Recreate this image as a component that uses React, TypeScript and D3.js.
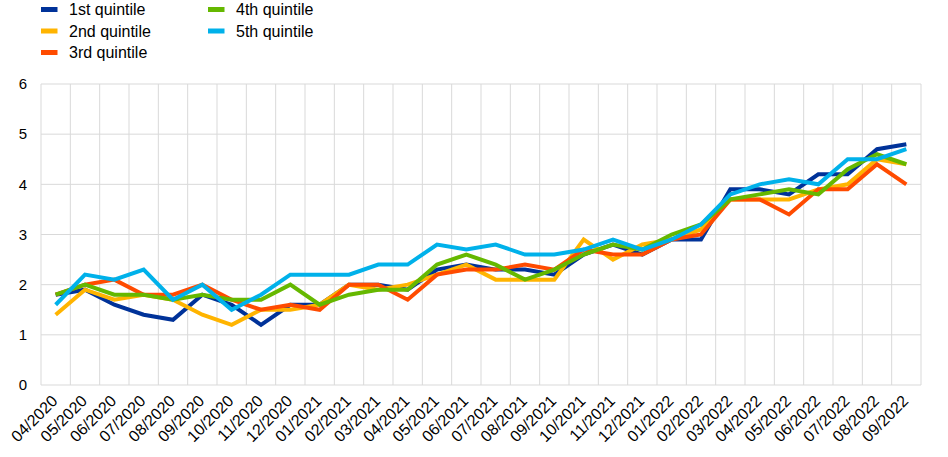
import React from "react";
import * as d3 from "d3";

const months = [
  "04/2020","05/2020","06/2020","07/2020","08/2020","09/2020","10/2020","11/2020","12/2020",
  "01/2021","02/2021","03/2021","04/2021","05/2021","06/2021","07/2021","08/2021","09/2021",
  "10/2021","11/2021","12/2021","01/2022","02/2022","03/2022","04/2022","05/2022","06/2022",
  "07/2022","08/2022","09/2022",
];

const q1 = [1.8,1.9,1.6,1.4,1.3,1.8,1.6,1.2,1.6,1.6,2.0,2.0,1.9,2.3,2.4,2.3,2.3,2.2,2.6,2.8,2.6,2.9,2.9,3.9,3.9,3.8,4.2,4.2,4.7,4.8];
const q2 = [1.4,1.9,1.7,1.8,1.7,1.4,1.2,1.5,1.5,1.6,2.0,1.9,2.0,2.2,2.4,2.1,2.1,2.1,2.9,2.5,2.8,2.9,3.1,3.7,3.7,3.7,3.9,4.0,4.5,4.4];
const q3 = [1.8,2.0,2.1,1.8,1.8,2.0,1.7,1.5,1.6,1.5,2.0,2.0,1.7,2.2,2.3,2.3,2.4,2.3,2.7,2.6,2.6,2.9,3.0,3.7,3.7,3.4,3.9,3.9,4.4,4.0];
const q4 = [1.8,2.0,1.8,1.8,1.7,1.8,1.7,1.7,2.0,1.6,1.8,1.9,1.9,2.4,2.6,2.4,2.1,2.3,2.6,2.8,2.7,3.0,3.2,3.7,3.8,3.9,3.8,4.3,4.6,4.4];
const q5 = [1.6,2.2,2.1,2.3,1.7,2.0,1.5,1.8,2.2,2.2,2.2,2.4,2.4,2.8,2.7,2.8,2.6,2.6,2.7,2.9,2.7,2.9,3.2,3.8,4.0,4.1,4.0,4.5,4.5,4.7];

const seriesNames = ["1st quintile","2nd quintile","3rd quintile","4th quintile","5th quintile"];
const seriesValues = [q1, q2, q3, q4, q5];
const seriesColors = ["#003299","#FFB400","#FF4B00","#65B800","#00B1EA"];
const yTicks = [0,1,2,3,4,5,6];

const W = 948, H = 457;
const left = 41, right = 921, top = 84, bottom = 385;

export default function App() {
  const x = d3.scaleBand<string>().domain(months).range([left, right]).padding(0);
  const y = d3.scaleLinear().domain([0, 6]).range([bottom, top]);
  const line = d3.line<number>()
    .x((_, i) => (x(months[i]) as number) + x.bandwidth() / 2)
    .y((d) => y(d));

  const legendPos = [
    { x: 41, y: 9.5 },
    { x: 41, y: 31 },
    { x: 41, y: 52.5 },
    { x: 208, y: 9.5 },
    { x: 208, y: 31 },
  ];

  const boundaries = months.map((m) => x(m) as number).concat([right]);

  return (
    <svg width={W} height={H} style={{ position: "absolute", left: 0, top: 0, fontFamily: "'Liberation Sans', Arial, sans-serif" }}>
      <rect x={0} y={0} width={W} height={H} fill="#fff" />
      {yTicks.map((t) => (
        <line key={"h" + t} x1={left} x2={right} y1={y(t)} y2={y(t)} stroke="#d9d9d9" strokeWidth={1} />
      ))}
      {boundaries.map((b, i) => (
        <line key={"v" + i} x1={b} x2={b} y1={top} y2={bottom} stroke="#d9d9d9" strokeWidth={1} />
      ))}
      {yTicks.map((t) => (
        <text key={"yt" + t} x={27} y={y(t)} dy="0.35em" textAnchor="end" fontSize={15} fill="#000">{t}</text>
      ))}
      {months.map((m) => {
        const cx = (x(m) as number) + x.bandwidth() / 2;
        return (
          <text key={m} transform={`translate(${cx + 3},${402}) rotate(-45)`} textAnchor="end" fontSize={16} fill="#000">{m}</text>
        );
      })}
      {seriesValues.map((vals, i) => (
        <path key={seriesNames[i]} d={line(vals) || ""} fill="none" stroke={seriesColors[i]} strokeWidth={4} strokeLinejoin="miter" />
      ))}
      {seriesNames.map((n, i) => (
        <g key={"lg" + n}>
          <rect x={legendPos[i].x} y={legendPos[i].y - 2.5} width={16.5} height={5} fill={seriesColors[i]} />
          <text x={legendPos[i].x + 28} y={legendPos[i].y} dy="0.35em" fontSize={16} fill="#000">{n}</text>
        </g>
      ))}
    </svg>
  );
}
